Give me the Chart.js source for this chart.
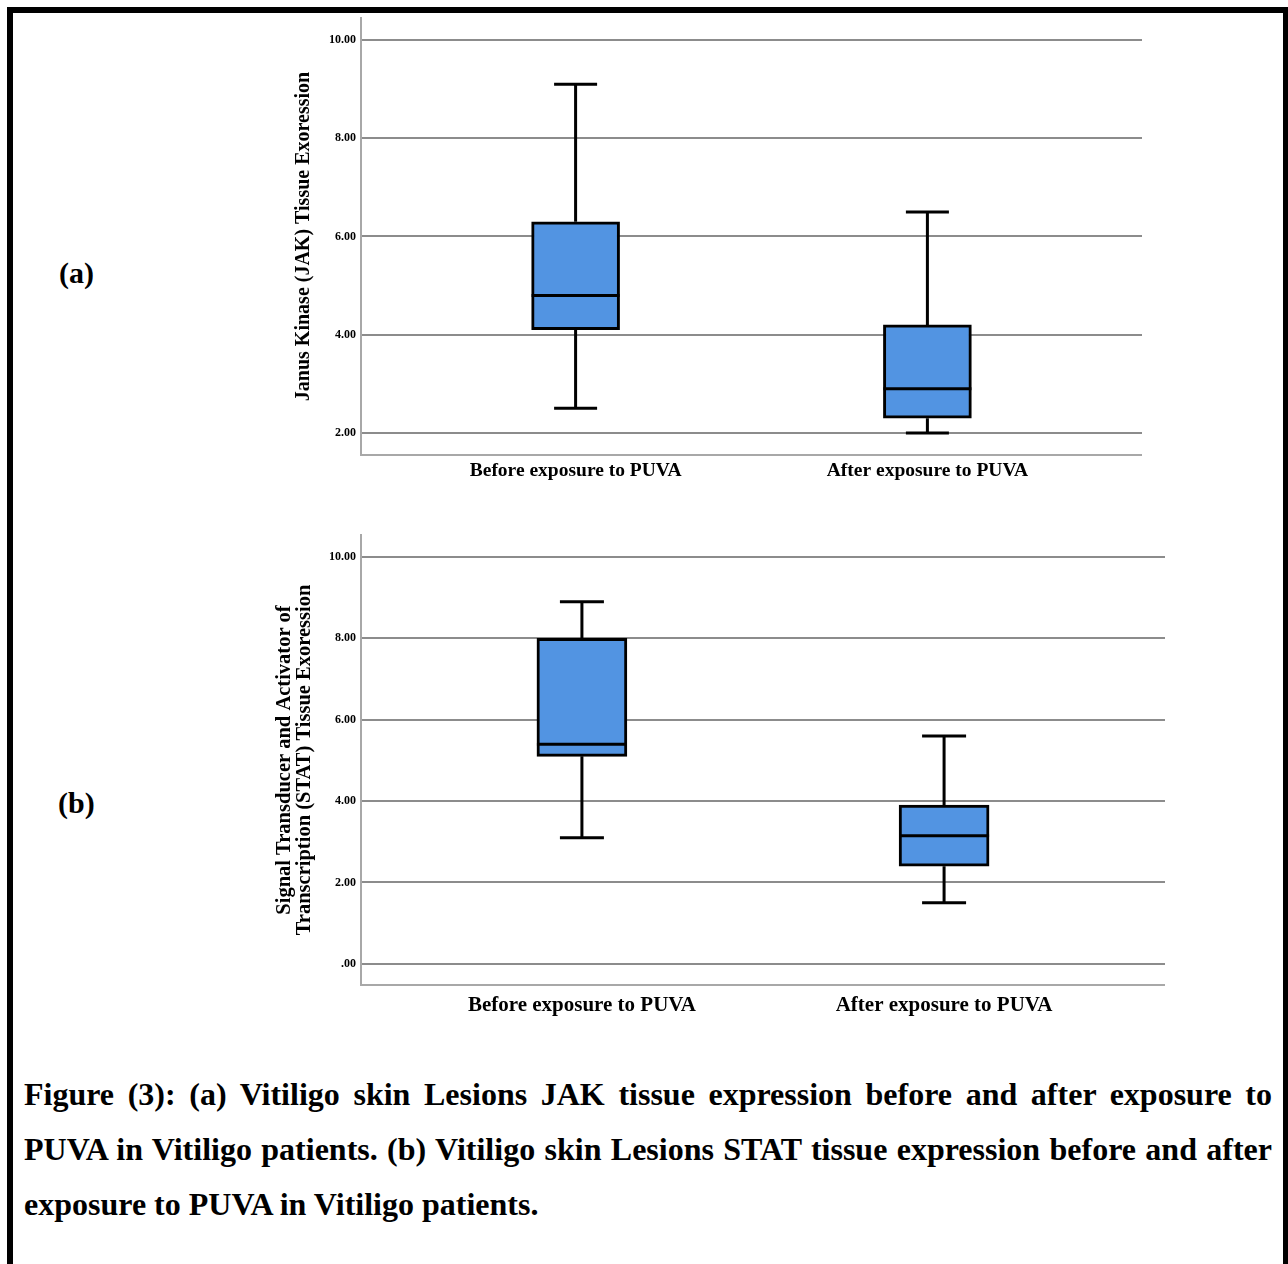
<!DOCTYPE html>
<html>
<head>
<meta charset="utf-8">
<script src="https://cdn.jsdelivr.net/npm/chart.js@4.4.1/dist/chart.umd.min.js"></script>
<style>
  html, body { margin: 0; padding: 0; background: #fff; width: 1288px; height: 1264px; overflow: hidden; }
  body { position: relative; font-family: 'Liberation Serif', 'Times New Roman', serif; }
  #frame { position: absolute; left: 7px; top: 7px; width: 1270px; height: 1300px; border: 6px solid #000; }
  .panel { position: absolute; font-weight: bold; font-size: 30px; line-height: 30px; }
  .wrap { position: absolute; }
  #caption { position: absolute; left: 24px; top: 1067px; width: 1248px; font-weight: bold; font-size: 32px; line-height: 55px; }
  #caption .j { text-align: justify; text-align-last: justify; }
</style>
</head>
<body>
<div id="frame"></div>
<div class="panel" style="left:59px; top:258px;">(a)</div>
<div class="panel" style="left:58px; top:788px;">(b)</div>
<div class="wrap" style="left:250px; top:0px; width:892px; height:500px;"><canvas id="jak"></canvas></div>
<div class="wrap" style="left:250px; top:517px; width:915px; height:513px;"><canvas id="stat"></canvas></div>
<div id="caption">
  <div class="j">Figure (3): (a) Vitiligo skin Lesions JAK tissue expression before and after exposure to</div>
  <div class="j">PUVA in Vitiligo patients. (b) Vitiligo skin Lesions STAT tissue expression before and after</div>
  <div>exposure to PUVA in Vitiligo patients.</div>
</div>
<script>
// groups on the x axis
const groups = ["Before exposure to PUVA", "After exposure to PUVA"];

// (a) JAK tissue expression, box plot stats
const jakMin = [2.5, 2.0];
const jakQ1 = [4.1, 2.3];
const jakMedian = [4.8, 2.9];
const jakQ3 = [6.3, 4.2];
const jakMax = [9.1, 6.5];
const jakTicks = [2, 4, 6, 8, 10];

// (b) STAT tissue expression
const statMin = [3.1, 1.5];
const statQ1 = [5.1, 2.4];
const statMedian = [5.4, 3.15];
const statQ3 = [8.0, 3.9];
const statMax = [8.9, 5.6];
const statTicks = [0, 2, 4, 6, 8, 10];

const boxBlue = "#5294e2";
const gridGrey = "#8c8c8c";
const axisGrey = "#a8a8a8";

Chart.defaults.font.family = "'Liberation Serif', 'Times New Roman', serif";
Chart.defaults.color = "#000";

// whiskers (under the boxes) and medians (over them)
const whiskerPlugin = {
	id: "whiskers",
	beforeDatasetsDraw(chart, args, opts) {
		const {ctx, scales: {x, y}} = chart;
		ctx.save();
		ctx.strokeStyle = "#000";
		ctx.lineWidth = 3;
		for (let i = 0; i < opts.min.length; i++) {
			const cx = x.getPixelForValue(i + 1);
			const yMin = y.getPixelForValue(opts.min[i]);
			const yMax = y.getPixelForValue(opts.max[i]);
			const yQ1 = y.getPixelForValue(opts.q1[i]);
			const yQ3 = y.getPixelForValue(opts.q3[i]);
			ctx.beginPath();
			ctx.moveTo(cx, yQ3); ctx.lineTo(cx, yMax);
			ctx.moveTo(cx, yQ1); ctx.lineTo(cx, yMin);
			ctx.moveTo(cx - opts.cap, yMax); ctx.lineTo(cx + opts.cap, yMax);
			ctx.moveTo(cx - opts.cap, yMin); ctx.lineTo(cx + opts.cap, yMin);
			ctx.stroke();
		}
		ctx.restore();
	},
	afterDatasetsDraw(chart, args, opts) {
		const {ctx, scales: {x, y}} = chart;
		ctx.save();
		ctx.strokeStyle = "#000";
		ctx.lineWidth = 3;
		for (let i = 0; i < opts.median.length; i++) {
			const cx = x.getPixelForValue(i + 1);
			const ym = y.getPixelForValue(opts.median[i]);
			ctx.beginPath();
			ctx.moveTo(cx - opts.half, ym); ctx.lineTo(cx + opts.half, ym);
			ctx.stroke();
		}
		ctx.restore();
	}
};

const makeBoxChart = (id, stats, cfg) => {
	return new Chart(document.getElementById(id), {
		type: "bar",
		data: {
			datasets: [{
				data: groups.map((g, i) => ({x: i + 1, y: [stats.q1[i], stats.q3[i]]})),
				backgroundColor: boxBlue,
				borderColor: "#000",
				borderWidth: 3,
				borderSkipped: false,
				barThickness: cfg.boxWidth
			}]
		},
		options: {
			responsive: true,
			maintainAspectRatio: false,
			animation: false,
			layout: {padding: {top: cfg.padTop, left: 0, right: 0, bottom: 0}},
			plugins: {
				legend: {display: false},
				tooltip: {enabled: false},
				whiskers: {
					min: stats.min, max: stats.max, q1: stats.q1, q3: stats.q3,
					median: stats.median, cap: cfg.cap, half: cfg.boxWidth / 2
				}
			},
			scales: {
				x: {
					type: "linear",
					offset: false,
					min: 0.39,
					max: 2.61,
					grid: {display: false, drawTicks: false, offset: false},
					border: {display: true, color: axisGrey, width: 2},
					afterBuildTicks: (scale) => { scale.ticks = groups.map((g, i) => ({value: i + 1})); },
					afterFit: (scale) => { scale.height = cfg.xHeight; },
					ticks: {
						padding: cfg.xPad,
						maxRotation: 0,
						autoSkip: false,
						font: {size: cfg.xFont, weight: "bold"},
						callback: (v, i) => groups[i]
					}
				},
				y: {
					min: cfg.yMin,
					max: cfg.yMax,
					grid: {color: gridGrey, lineWidth: 2, drawTicks: false},
					border: {display: true, color: axisGrey, width: 2},
					afterBuildTicks: (scale) => { scale.ticks = cfg.ticks.map(v => ({value: v})); },
					afterFit: (scale) => { scale.width = 111; },
					ticks: {
						padding: 5,
						font: {size: 12, weight: "bold"},
						callback: (v) => v.toFixed(2).replace(/^0\./, ".")
					},
					title: {
						display: true,
						text: cfg.title,
						font: {size: cfg.titleFont, weight: "bold", lineHeight: 1},
						padding: {top: cfg.titlePad, bottom: 0}
					}
				}
			}
		},
		plugins: [whiskerPlugin]
	});
};

makeBoxChart("jak",
	{min: jakMin, q1: jakQ1, median: jakMedian, q3: jakQ3, max: jakMax},
	{boxWidth: 88, cap: 21.5, padTop: 18, xHeight: 45, xPad: 4, xFont: 19.5,
	 yMin: 1.55, yMax: 10.45, ticks: jakTicks, titleFont: 20,
	 title: "Janus Kinase (JAK) Tissue Exoression", titlePad: 44});

makeBoxChart("stat",
	{min: statMin, q1: statQ1, median: statMedian, q3: statQ3, max: statMax},
	{boxWidth: 90, cap: 22, padTop: 18, xHeight: 45, xPad: 8, xFont: 21,
	 yMin: -0.52, yMax: 10.54, ticks: statTicks, titleFont: 20.5,
	 title: ["Signal Transducer and Activator of", "Transcription (STAT) Tissue Exoression"], titlePad: 24});
</script>
</body>
</html>
